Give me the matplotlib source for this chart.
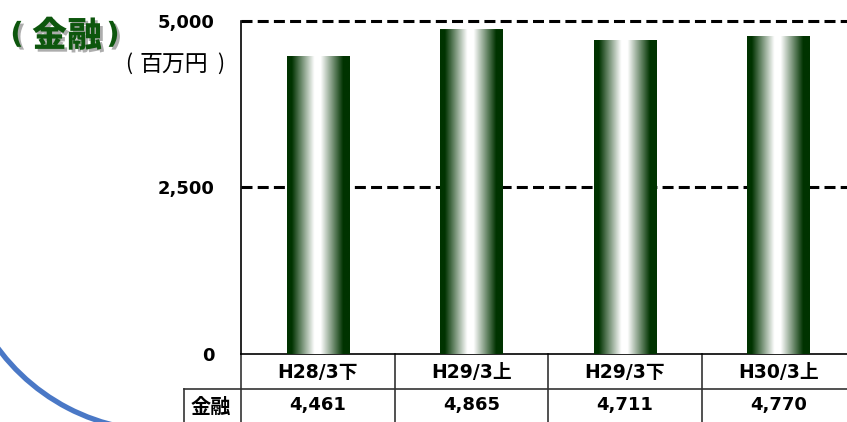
import numpy as np
import matplotlib.pyplot as plt
import matplotlib.patheffects as pe
from matplotlib.patches import Arc
from matplotlib.transforms import blended_transform_factory

categories = ['H28/3下', 'H29/3上', 'H29/3下', 'H30/3上']
values = [4461, 4865, 4711, 4770]
row_label = '金融'
yticks = [0, 2500, 5000]
ytick_labels = ['0', '2,500', '5,000']

W, H = 847, 422
fig = plt.figure(figsize=(W / 100, H / 100), dpi=100)

# background layer in pixel units (title, unit, decorative arc)
bg = fig.add_axes([0, 0, 1, 1], zorder=-1)
bg.set_xlim(0, W)
bg.set_ylim(H, 0)
bg.axis('off')
bg.add_patch(Arc((162, 227), 408, 408, theta1=85, theta2=150,
                 color='#4a78c6', lw=3.8))

shadow = [pe.withSimplePatchShadow(offset=(2, -2), shadow_rgbFace='#777777', alpha=0.6)]
title_kw = dict(color='#0d560d', va='center', ha='center', path_effects=shadow)
bg.text(17, 35, '(', fontsize=21, fontweight='bold', family=['DejaVu Sans'], **title_kw)
bg.text(67, 36, '金融', fontsize=25, fontweight='black', family=['Noto Sans CJK JP'], **title_kw)
bg.text(113, 35, ')', fontsize=21, fontweight='bold', family=['DejaVu Sans'], **title_kw)

unit_kw = dict(color='black', family=['Noto Sans CJK JP'], va='center')
bg.text(129, 64, '(', fontsize=15, ha='center', **unit_kw)
bg.text(174, 64, '百万円', fontsize=16.5, ha='center', **unit_kw)
bg.text(221, 64, ')', fontsize=15, ha='center', **unit_kw)

# main chart area
x0, x1, ytop, ybase = 241, 855, 21, 354
ax = fig.add_axes([x0 / W, (H - ybase) / H, (x1 - x0) / W, (ybase - ytop) / H])
x = np.arange(len(categories))

bars = ax.bar(x, values, width=0.404, color='none', edgecolor='none', zorder=3)

# horizontal gradient: dark green edges, white core
dark = np.array([0, 51, 0]) / 255
u = np.abs(np.linspace(-1, 1, 200) + 0.03)
t = np.clip((u - 0.1) / 0.72, 0, 1)
grad = (1 - t)[:, None] * np.ones(3) + t[:, None] * dark
grad = grad[None, :, :]
for b in bars:
    ax.imshow(grad, extent=(b.get_x(), b.get_x() + b.get_width(), 0, b.get_height()),
              aspect='auto', interpolation='bilinear', zorder=3)
ax.set_xlim(-0.5, len(categories) - 0.5)
ax.set_ylim(0, 5000)

for yv in [2500, 5000]:
    ax.axhline(yv, color='black', lw=2.2, linestyle=(0, (3.6, 1.7)), zorder=2, clip_on=False)

for s in ['top', 'right']:
    ax.spines[s].set_visible(False)
ax.spines['left'].set_linewidth(1.2)
ax.spines['bottom'].set_linewidth(1.2)
ax.set_xticks([])
ax.set_yticks(yticks)
ax.set_yticklabels(ytick_labels, fontsize=13, fontweight='bold')
ax.tick_params(axis='y', length=0, pad=19)

# data table under the axis
tr = blended_transform_factory(ax.transData, ax.transAxes)
def fy(py):
    return (ybase - py) / (ybase - ytop)

r1, r2 = fy(389), fy(426)
line_kw = dict(color='#333333', lw=1.2, clip_on=False, transform=tr)
ax.plot([-0.5, 3.5], [r1, r1], **line_kw)
for xb in np.arange(-0.5, len(categories), 1.0):
    ax.plot([xb, xb], [0, r2], **line_kw)

txt_kw = dict(fontweight='bold', ha='center', va='center',
              family=['DejaVu Sans', 'Noto Sans CJK JP'], transform=tr, clip_on=False)
for xi, cat, v in zip(x, categories, values):
    ax.text(xi, fy(373), cat, fontsize=13.5, **txt_kw)
    ax.text(xi, fy(405), f'{v:,}', fontsize=13, **txt_kw)

# row header cell
bg.plot([184, 241], [389, 389], color='#333333', lw=1.2)
bg.plot([184, 184], [389, 430], color='#333333', lw=1.2)
bg.text(211, 406, row_label, fontsize=14.5, fontweight='bold', ha='center', va='center',
        family=['Noto Sans CJK JP'])

fig.savefig('out.png', dpi=100)
